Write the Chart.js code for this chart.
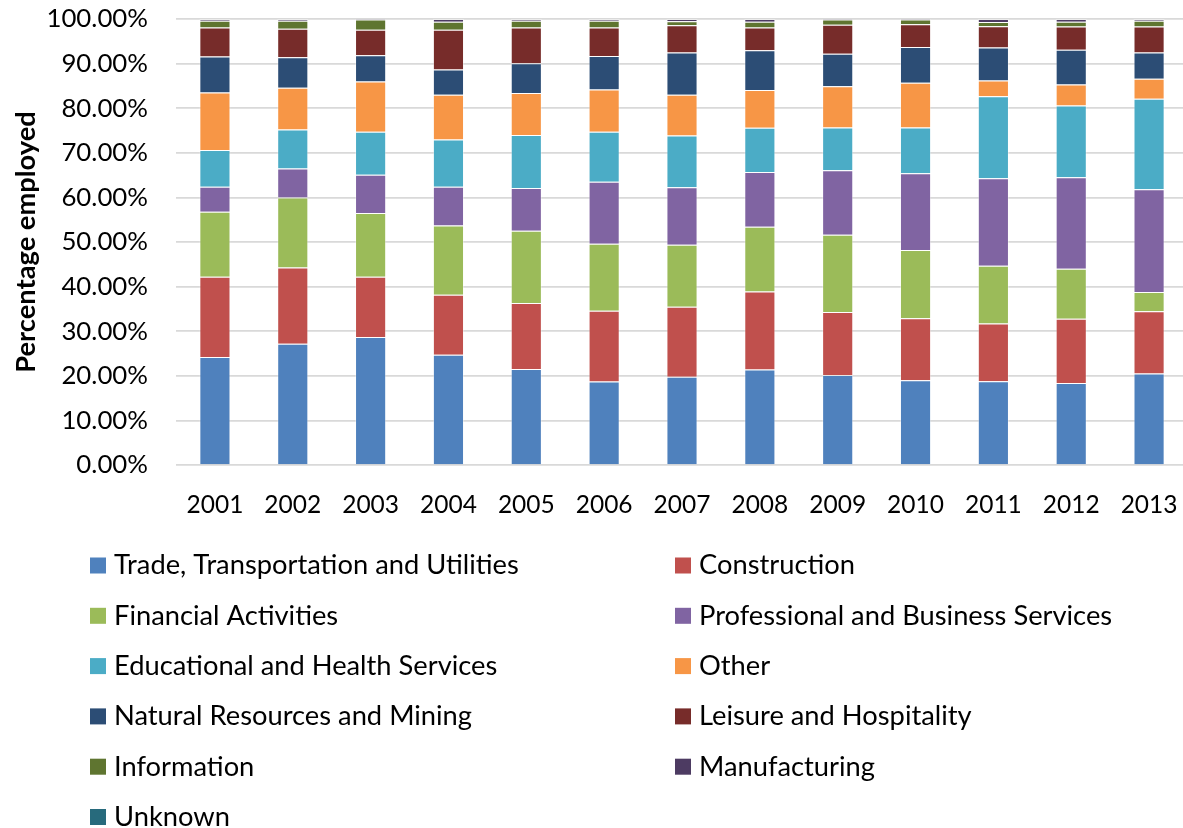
<!DOCTYPE html>
<html>
<head>
<meta charset="utf-8">
<script src="https://cdn.jsdelivr.net/npm/chart.js@4.4.1/dist/chart.umd.min.js"></script>
<style>
  html, body { margin: 0; padding: 0; background: #fff; overflow: hidden; }
  #wrap { position: relative; width: 1190px; height: 828px; }
</style>
</head>
<body>
<div id="wrap"><canvas id="chart" width="1190" height="828"></canvas></div>
<script>
// ── Employment share by industry, 2001–2013 ──

const YEARS = ['2001', '2002', '2003', '2004', '2005', '2006', '2007', '2008', '2009', '2010', '2011', '2012', '2013'];

const TRADE         = [24.2, 27.2, 28.7, 24.7, 21.5, 18.7, 19.8, 21.4, 20.2, 19.0, 18.8, 18.4, 20.5];
const CONSTRUCTION  = [18.0, 17.1, 13.5, 13.5, 14.8, 15.9, 15.7, 17.5, 14.1, 13.9, 12.9, 14.4, 14.0];
const FINANCIAL     = [14.6, 15.7, 14.3, 15.5, 16.2, 15.0, 13.9, 14.5, 17.3, 15.3, 13.0, 11.2, 4.3];
const PROFESSIONAL  = [5.6, 6.5, 8.6, 8.7, 9.6, 13.9, 12.9, 12.3, 14.5, 17.2, 19.6, 20.5, 23.0];
const EDUCATIONAL   = [8.2, 8.7, 9.6, 10.6, 11.9, 11.2, 11.6, 9.9, 9.6, 10.3, 18.4, 16.1, 20.3];
const OTHER         = [12.9, 9.4, 11.3, 10.0, 9.4, 9.5, 9.1, 8.5, 9.2, 10.0, 3.5, 4.7, 4.5];
const NATURAL       = [8.1, 6.8, 5.9, 5.7, 6.7, 7.5, 9.5, 8.9, 7.3, 8.0, 7.4, 7.8, 5.9];
const LEISURE       = [6.5, 6.4, 5.7, 8.9, 8.0, 6.4, 6.1, 5.1, 6.5, 5.1, 4.8, 5.2, 5.8];
const INFORMATION   = [1.5, 1.8, 2.3, 1.8, 1.5, 1.5, 0.9, 1.3, 1.2, 1.1, 0.9, 1.1, 1.3];
const MANUFACTURING = [0.4, 0.4, 0.1, 0.6, 0.4, 0.4, 0.5, 0.6, 0.1, 0.1, 0.7, 0.6, 0.4];
const UNKNOWN       = [0, 0, 0, 0, 0, 0, 0, 0, 0, 0, 0, 0, 0];

const Y_TICKS = [0, 10, 20, 30, 40, 50, 60, 70, 80, 90, 100];

const SERIES = [
  { label: 'Trade, Transportation and Utilities', data: TRADE,         color: '#4F81BD' },
  { label: 'Construction',                        data: CONSTRUCTION,  color: '#C0504D' },
  { label: 'Financial Activities',                data: FINANCIAL,     color: '#9BBB59' },
  { label: 'Professional and Business Services',  data: PROFESSIONAL,  color: '#8064A2' },
  { label: 'Educational and Health Services',     data: EDUCATIONAL,   color: '#4BACC6' },
  { label: 'Other',                               data: OTHER,         color: '#F79646' },
  { label: 'Natural Resources and Mining',        data: NATURAL,       color: '#2C4D75' },
  { label: 'Leisure and Hospitality',             data: LEISURE,       color: '#772C2A' },
  { label: 'Information',                         data: INFORMATION,   color: '#5F7530' },
  { label: 'Manufacturing',                       data: MANUFACTURING, color: '#4D3B62' },
  { label: 'Unknown',                             data: UNKNOWN,       color: '#276A7C' }
];

const FONT = 'Lato';
const TEXT = '#000';

Chart.defaults.font.family = FONT;
Chart.defaults.color = TEXT;

// ── Two-column legend under the plot ──
const gridLegend = {
  id: 'gridLegend',
  afterDraw(chart) {
    const { ctx } = chart;
    const cols = [{ box: 90, text: 114 }, { box: 675, text: 699 }];
    ctx.save();
    ctx.font = `27.3px ${FONT}`;
    ctx.textBaseline = 'middle';
    ctx.textAlign = 'left';
    chart.data.datasets.forEach((ds, i) => {
      const col = cols[i % 2];
      const cy = 565.5 + Math.floor(i / 2) * 50.3;
      ctx.fillStyle = ds.backgroundColor;
      ctx.fillRect(col.box, cy - 8, 16, 16);
      ctx.fillStyle = TEXT;
      ctx.fillText(ds.label, col.text, cy);
    });
    ctx.restore();
  }
};

new Chart(document.getElementById('chart'), {
  type: 'bar',
  data: {
    labels: YEARS,
    datasets: SERIES.map(s => ({
      label: s.label,
      data: s.data,
      backgroundColor: s.color,
      borderColor: 'rgba(255,255,255,0.35)',
      borderWidth: 1,
      barPercentage: 0.4,
      categoryPercentage: 1
    }))
  },
  options: {
    responsive: false,
    animation: false,
    layout: { padding: { top: 19, right: 2, bottom: 303, left: 0 } },
    plugins: {
      legend: { display: false },
      tooltip: { enabled: false }
    },
    scales: {
      x: {
        stacked: true,
        grid: { display: false },
        border: { display: false },
        ticks: { font: { size: 24.5 }, padding: 17, color: TEXT, maxRotation: 0 },
        afterFit(scale) {
          scale.height = 60;
          scale.paddingLeft = 0;
          scale.paddingRight = 0;
        }
      },
      y: {
        stacked: true,
        min: 0,
        max: 100,
        afterBuildTicks(scale) { scale.ticks = Y_TICKS.map(v => ({ value: v })); },
        grid: { color: '#D9D9D9', lineWidth: 1.75, drawTicks: false },
        border: { display: false },
        ticks: {
          font: { size: 25.8 },
          padding: 28,
          color: TEXT,
          callback: v => v.toFixed(2) + '%'
        },
        title: {
          display: true,
          text: 'Percentage employed',
          font: { size: 27.3, weight: 'bold' },
          color: TEXT,
          padding: { top: 10, bottom: 0 }
        },
        afterFit(scale) {
          scale.width = 176;
          scale.paddingTop = 0;
          scale.paddingBottom = 0;
        }
      }
    }
  },
  plugins: [gridLegend]
});
</script>
</body>
</html>
